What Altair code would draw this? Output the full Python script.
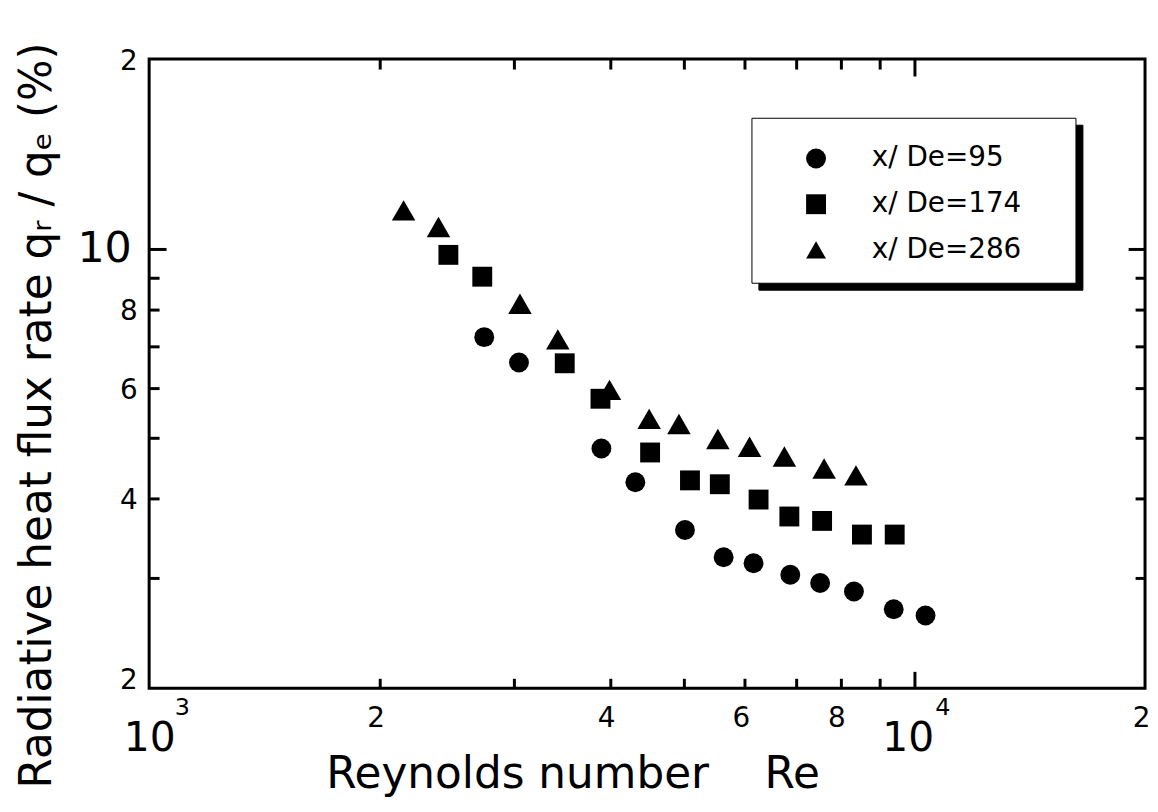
import altair as alt
import pandas as pd

# ---------------- data ----------------
series_names = ["x/ De=95", "x/ De=174", "x/ De=286"]

re_95 = [2740, 3042, 3898, 4317, 5012, 5630, 6160, 6880, 7526, 8332, 9391, 10334]
q_95 = [7.23, 6.59, 4.81, 4.25, 3.57, 3.23, 3.16, 3.03, 2.94, 2.85, 2.67, 2.61]

re_174 = [2460, 2724, 3491, 3887, 4513, 5088, 5566, 6254, 6861, 7571, 8535, 9419]
q_174 = [9.77, 9.02, 6.57, 5.77, 4.74, 4.28, 4.22, 3.99, 3.75, 3.69, 3.51, 3.51]

re_286 = [2150, 2388, 3051, 3419, 3994, 4500, 4922, 5533, 6087, 6759, 7617, 8383]
q_286 = [11.5, 10.82, 8.17, 7.17, 5.96, 5.36, 5.26, 4.98, 4.84, 4.67, 4.47, 4.36]

x_domain = [1000, 20000]
y_domain = [2, 20]
x_tick_values = [2000, 3000, 4000, 5000, 6000, 7000, 8000, 9000, 10000]
y_tick_values = [3, 4, 5, 6, 7, 8, 9, 10]
x_small_labels = [2000, 4000, 6000, 8000, 20000]
x_decade_labels = [1000, 10000]
y_small_labels = [2, 4, 6, 8, 20]
y_decade_labels = [10]

x_title = "Reynolds number\u00a0\u00a0\u00a0\u00a0Re"
y_title = "Radiative heat flux rate q\u1d63 / q\u2091 (%)"

# ---------------- build table ----------------
rows = []
for name, xs, ys in zip(series_names, [re_95, re_174, re_286], [q_95, q_174, q_286]):
    for a, b in zip(xs, ys):
        rows.append({"Re": a, "q": b, "series": name, "series2": name, "series3": name})
df = pd.DataFrame(rows)

W, H = 1002, 633
FONT = "DejaVu Sans"

xscale = alt.Scale(type="log", domain=x_domain, nice=False)
yscale = alt.Scale(type="log", domain=y_domain, nice=False)


def label_axis(**kw):
    base = dict(ticks=False, tickSize=0, domain=False, grid=False, labelFlush=False,
                labelOverlap=False, labelBound=False, title=None, labelFont=FONT,
                labelColor="black")
    base.update(kw)
    return alt.Axis(**base)


def tick_axis(orient, offset, values, major):
    return alt.Axis(orient=orient, offset=offset, values=values, labels=False,
                    domain=False, grid=False, title=None, ticks=True,
                    tickColor="black", tickWidth=3,
                    tickSize={"condition": {"test": f"datum.value == {major}", "value": 17},
                              "value": 10})


# legend frame (white box) and its drop shadow: symbol legends with empty labels
frame_common = dict(orient="none", title=None, padding=24, rowPadding=17,
                    symbolSize=400, symbolOffset=30, labelOffset=220,
                    labelFontSize=28, labelFont=FONT, cornerRadius=0,
                    labelExpr="''", symbolOpacity=0, symbolStrokeWidth=0)

base = alt.Chart(df)

frames = base.mark_point(filled=True, opacity=0).encode(
    x=alt.X("Re:Q", scale=xscale, axis=None),
    y=alt.Y("q:Q", scale=yscale, axis=None),
    color=alt.Color("series2:N", scale=alt.Scale(range=["black", "black", "black"]),
                    legend=alt.Legend(legendX=613, legendY=66, fillColor="black",
                                      strokeColor="black", **frame_common)),
    stroke=alt.Stroke("series3:N", scale=alt.Scale(range=["black", "black", "black"]),
                      legend=alt.Legend(legendX=606, legendY=59, fillColor="white",
                                        strokeColor="black", **frame_common)),
)

points = base.mark_point(filled=True, opacity=1, color="black").encode(
    x=alt.X("Re:Q", scale=xscale,
            axis=label_axis(orient="bottom", values=x_decade_labels, labelExpr="'10'",
                            labelFontSize=41, labelPadding=63, labelBaseline="alphabetic",
                            labelOffset={"condition": {"test": "datum.value == 10000", "value": -7},
                                         "value": 0},
                            title=x_title, titleX=426, titleY=100, titleAlign="center",
                            titleBaseline="alphabetic", titleFontSize=44, titleFont=FONT,
                            titleFontWeight="normal", titleColor="black")),
    y=alt.Y("q:Q", scale=yscale,
            axis=label_axis(orient="left", values=y_small_labels,
                            labelExpr="datum.value == 20 ? '2' : '' + datum.value",
                            labelFontSize=28, labelPadding=12,
                            labelOffset={"condition": {"test": "datum.value == 2", "value": -8},
                                         "value": 2},
                            title=y_title, titleX=-99, titleY=358, titleAngle=270,
                            titleAlign="center", titleBaseline="alphabetic",
                            titleFontSize=44, titleFont=FONT, titleFontWeight="normal",
                            titleColor="black")),
    shape=alt.Shape("series:N",
                    scale=alt.Scale(domain=series_names, range=["circle", "square", "triangle-up"]),
                    legend=alt.Legend(orient="none", title=None, legendX=603, legendY=62,
                                      padding=24, rowPadding=18, symbolSize=400,
                                      symbolOffset=30, labelOffset=42, labelFontSize=28,
                                      labelFont=FONT, labelLimit=400, labelColor="black",
                                      symbolFillColor="black", symbolStrokeColor="black",
                                      symbolStrokeWidth=0)),
    size=alt.condition(alt.datum.series == "x/ De=286", alt.value(560), alt.value(400)),
)


def ghost(x_axis, y_axis):
    return base.mark_point(opacity=0).encode(
        x=alt.X("Re:Q", scale=xscale, axis=x_axis),
        y=alt.Y("q:Q", scale=yscale, axis=y_axis),
    )


l2 = ghost(
    label_axis(orient="bottom", values=x_small_labels,
               labelExpr="datum.value == 20000 ? '2' : '' + (datum.value / 1000)",
               labelFontSize=28, labelPadding=38, labelBaseline="alphabetic", labelOffset=-4),
    label_axis(orient="left", values=y_decade_labels, labelExpr="'10'",
               labelFontSize=43, labelPadding=18),
)
l3 = ghost(
    label_axis(orient="bottom", values=x_decade_labels,
               labelExpr="datum.value == 1000 ? '3' : '4'",
               labelFontSize=24, labelPadding=26, labelBaseline="alphabetic",
               labelOffset={"condition": {"test": "datum.value == 1000", "value": 33},
                            "value": 28}),
    tick_axis("right", -W, y_tick_values, 10),
)
l4 = ghost(tick_axis("top", -H, x_tick_values, 10000), tick_axis("left", -W, y_tick_values, 10))
l5 = ghost(tick_axis("bottom", -H, x_tick_values, 10000), None)

chart = (
    alt.layer(frames, points, l2, l3, l4, l5)
    .resolve_axis(x="independent", y="independent")
    .properties(width=W, height=H,
                padding={"left": 142, "top": 49, "right": 5, "bottom": 110},
                autosize=alt.AutoSizeParams(type="none"),
                background="white")
    .configure_view(stroke="black", strokeWidth=3)
)

chart.save("out.html", embed_options={"renderer": "svg", "actions": False})
